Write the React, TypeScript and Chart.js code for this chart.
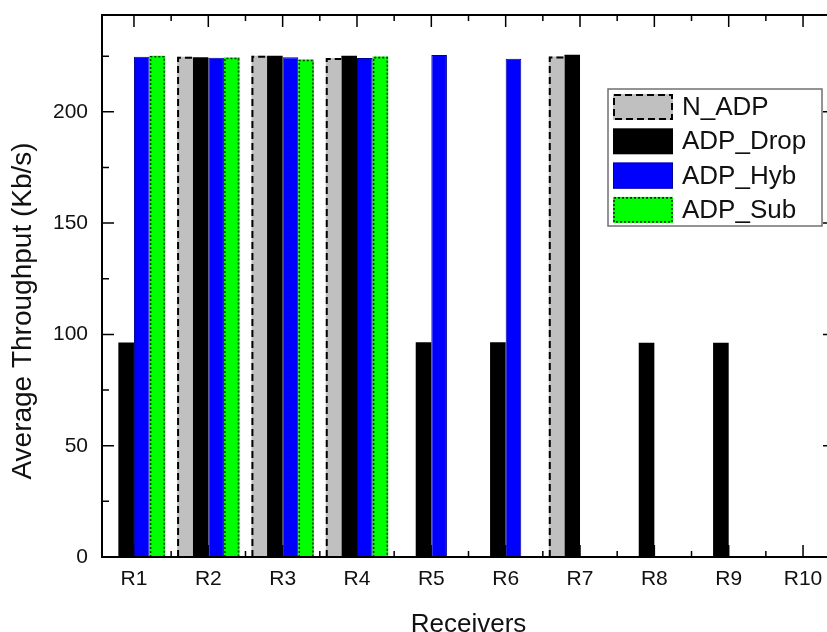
import { useEffect, useRef } from 'react';
import { Chart, registerables } from 'chart.js';

Chart.register(...registerables);

const categories = ['R1', 'R2', 'R3', 'R4', 'R5', 'R6', 'R7', 'R8', 'R9', 'R10'];
const seriesNames = ['N_ADP', 'ADP_Drop', 'ADP_Hyb', 'ADP_Sub'];
const nAdp = [null, 224.7, 225.2, 224.2, null, null, 224.8, null, null, null];
const adpDrop = [96.4, 224.5, 225.2, 225.2, 96.5, 96.5, 225.6, 96.2, 96.2, null];
const adpHyb = [224.7, 224.3, 224.5, 224.2, 225.5, 223.8, null, null, null, null];
const adpSub = [225.2, 224.4, 223.5, 224.8, null, null, null, null, null, null];
const yTickValues = [0, 50, 100, 150, 200];
const yMinorValues = [25, 75, 125, 175, 225];
const xTitle = 'Receivers';
const yTitle = 'Average Throughput (Kb/s)';

const FONT = 'Arial, "Liberation Sans", sans-serif';
const TEXT = '#111111';

const toPoints = (arr: (number | null)[]) => arr.map((v, i) => ({ x: i + 1, y: v }));

const decorPlugin = {
  id: 'decor',
  beforeDatasetsDraw(chart: any) {
    const { ctx, chartArea, scales } = chart;
    const { left, right, top, bottom } = chartArea;
    ctx.save();
    ctx.strokeStyle = '#000';
    ctx.lineWidth = 1.5;
    ctx.beginPath();
    categories.forEach((_, i) => {
      const px = scales.x.getPixelForValue(i + 1);
      ctx.moveTo(px, bottom); ctx.lineTo(px, bottom - 12);
      ctx.moveTo(px, top); ctx.lineTo(px, top + 12);
      if (i < categories.length - 1) {
        const mx = scales.x.getPixelForValue(i + 1.5);
        ctx.moveTo(mx, bottom); ctx.lineTo(mx, bottom - 6);
        ctx.moveTo(mx, top); ctx.lineTo(mx, top + 6);
      }
    });
    yTickValues.forEach((v) => {
      const py = scales.y.getPixelForValue(v);
      ctx.moveTo(left, py); ctx.lineTo(left + 12, py);
      ctx.moveTo(right, py); ctx.lineTo(right - 12, py);
    });
    yMinorValues.forEach((v) => {
      const py = scales.y.getPixelForValue(v);
      ctx.moveTo(left, py); ctx.lineTo(left + 7, py);
      ctx.moveTo(right, py); ctx.lineTo(right - 7, py);
    });
    ctx.stroke();
    ctx.restore();
  },
  afterDatasetsDraw(chart: any) {
    const { ctx, chartArea } = chart;
    const { left, right, top, bottom } = chartArea;
    ctx.save();
    const meta0 = chart.getDatasetMeta(0);
    ctx.strokeStyle = '#000';
    ctx.lineWidth = 2;
    ctx.setLineDash([7, 4]);
    meta0.data.forEach((el: any, i: number) => {
      if (nAdp[i] == null) return;
      const { x, y, base, width } = el.getProps(['x', 'y', 'base', 'width'], true);
      const l = x - width / 2;
      const r = x + width / 2;
      ctx.beginPath();
      ctx.moveTo(l + 1, base);
      ctx.lineTo(l + 1, y + 1);
      ctx.lineTo(r, y + 1);
      ctx.stroke();
    });
    const meta3 = chart.getDatasetMeta(3);
    ctx.strokeStyle = '#0a3a0a';
    ctx.lineWidth = 1.6;
    ctx.setLineDash([2, 2]);
    meta3.data.forEach((el: any, i: number) => {
      if (adpSub[i] == null) return;
      const { x, y, base, width } = el.getProps(['x', 'y', 'base', 'width'], true);
      const l = x - width / 2;
      const r = x + width / 2;
      ctx.beginPath();
      ctx.moveTo(l + 1, base);
      ctx.lineTo(l + 1, y + 1);
      ctx.lineTo(r - 1, y + 1);
      ctx.lineTo(r - 1, base);
      ctx.stroke();
    });
    ctx.setLineDash([]);
    ctx.strokeStyle = '#000';
    ctx.lineWidth = 2;
    ctx.strokeRect(left, top, right - left, bottom - top);
    ctx.restore();
  },
  afterDraw(chart: any) {
    const { ctx, chartArea } = chart;
    ctx.save();
    ctx.fillStyle = TEXT;
    ctx.font = `28px ${FONT}`;
    ctx.textAlign = 'center';
    ctx.textBaseline = 'middle';
    ctx.translate(23, (chartArea.top + chartArea.bottom) / 2 + 25);
    ctx.rotate(-Math.PI / 2);
    ctx.fillText(yTitle, 0, 0);
    ctx.restore();

    ctx.save();
    const bx = chartArea.right - 227;
    const by = chartArea.top + 74;
    const bw = 214;
    const bh = 137;
    ctx.fillStyle = '#fff';
    ctx.fillRect(bx, by, bw, bh);
    ctx.strokeStyle = '#707070';
    ctx.lineWidth = 1.5;
    ctx.strokeRect(bx, by, bw, bh);
    seriesNames.forEach((name, i) => {
      const sx = bx + 5;
      const sy = by + 5 + i * 34.3;
      const sw = 60;
      const sh = 26;
      ctx.setLineDash([]);
      if (i === 0) {
        ctx.fillStyle = '#c0c0c0';
        ctx.fillRect(sx, sy, sw, sh);
        ctx.strokeStyle = '#000';
        ctx.lineWidth = 2;
        ctx.setLineDash([7, 4]);
        ctx.strokeRect(sx + 1, sy + 1, sw - 2, sh - 2);
      } else if (i === 1) {
        ctx.fillStyle = '#000';
        ctx.fillRect(sx, sy, sw, sh);
      } else if (i === 2) {
        ctx.fillStyle = '#0000ff';
        ctx.fillRect(sx, sy, sw, sh);
        ctx.strokeStyle = '#00009a';
        ctx.lineWidth = 1;
        ctx.strokeRect(sx + 0.5, sy + 0.5, sw - 1, sh - 1);
      } else {
        ctx.fillStyle = '#00ff00';
        ctx.fillRect(sx, sy, sw, sh);
        ctx.strokeStyle = '#0a3a0a';
        ctx.lineWidth = 1.6;
        ctx.setLineDash([2, 2]);
        ctx.strokeRect(sx + 1, sy + 1, sw - 2, sh - 2);
      }
      ctx.setLineDash([]);
      ctx.fillStyle = TEXT;
      ctx.font = `26px ${FONT}`;
      ctx.textAlign = 'left';
      ctx.textBaseline = 'middle';
      ctx.fillText(name, sx + 69, sy + sh / 2 + 1);
    });
    ctx.restore();
  },
};

export default function App() {
  const ref = useRef<HTMLCanvasElement | null>(null);
  useEffect(() => {
    const canvas = ref.current;
    if (!canvas) return;
    const chart = new Chart(canvas, {
      type: 'bar',
      data: {
        datasets: [
          { label: seriesNames[0], data: toPoints(nAdp), backgroundColor: '#c0c0c0', borderWidth: 0 },
          { label: seriesNames[1], data: toPoints(adpDrop), backgroundColor: '#000000', borderWidth: 0 },
          { label: seriesNames[2], data: toPoints(adpHyb), backgroundColor: '#0000ff', borderColor: '#00009a', borderWidth: 1 },
          { label: seriesNames[3], data: toPoints(adpSub), backgroundColor: '#00ff00', borderWidth: 0 },
        ],
      } as any,
      options: {
        animation: false,
        responsive: false,
        devicePixelRatio: 1,
        layout: { padding: { top: 15, right: 5, left: 0, bottom: 0 } },
        datasets: { bar: { categoryPercentage: 0.84, barPercentage: 1 } },
        plugins: { legend: { display: false }, tooltip: { enabled: false } },
        scales: {
          x: {
            type: 'linear',
            bounds: 'data',
            offset: false,
            min: 0.57,
            max: 10.43,
            grid: { display: false, drawTicks: false, offset: false },
            border: { display: false },
            afterBuildTicks: (s: any) => {
              s.ticks = categories.map((_, i) => ({ value: i + 1 }));
            },
            afterFit: (s: any) => {
              s.height = 88;
              s.paddingLeft = 0;
              s.paddingRight = 0;
            },
            ticks: {
              callback: (_v: any, i: number) => categories[i],
              font: { size: 21, family: FONT },
              color: TEXT,
              padding: 10,
              maxRotation: 0,
              autoSkip: false,
            },
            title: {
              display: true,
              text: xTitle,
              font: { size: 26, family: FONT },
              color: TEXT,
              padding: { top: 0, bottom: 5 },
            },
          },
          y: {
            bounds: 'data',
            min: 0,
            max: 243.5,
            grid: { display: false, drawTicks: false },
            border: { display: false },
            afterBuildTicks: (s: any) => {
              s.ticks = yTickValues.map((v) => ({ value: v }));
            },
            afterFit: (s: any) => {
              s.width = 102;
              s.paddingTop = 0;
              s.paddingBottom = 0;
            },
            ticks: {
              font: { size: 21, family: FONT },
              color: TEXT,
              padding: 14,
            },
          },
        },
      } as any,
      plugins: [decorPlugin],
    });
    return () => chart.destroy();
  }, []);

  return (
    <div style={{ position: 'fixed', left: 0, top: 0, width: 827, height: 632, overflow: 'hidden', background: '#fff' }}>
      <canvas ref={ref} width={840} height={645} style={{ display: 'block' }} />
    </div>
  );
}
